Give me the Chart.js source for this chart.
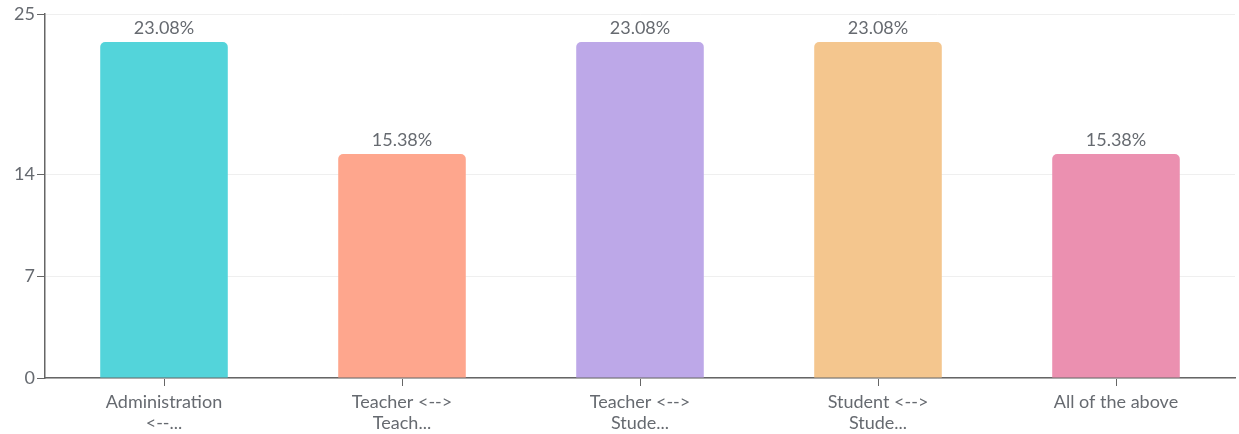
<!DOCTYPE html>
<html>
<head>
<meta charset="utf-8">
<style>
  html, body { margin: 0; padding: 0; background: #fff; }
  #wrap { width: 1239px; height: 434px; position: relative; }
</style>
<script src="https://cdn.jsdelivr.net/npm/chart.js@4.4.1/dist/chart.umd.min.js"></script>
</head>
<body>
<div id="wrap"><canvas id="grafico"></canvas></div>
<script>
// Dados
const categorias = [
    ['Administration', '<--...'],
    ['Teacher <-->', 'Teach...'],
    ['Teacher <-->', 'Stude...'],
    ['Student <-->', 'Stude...'],
    'All of the above',
];
const valores = [23.08, 15.38, 23.08, 23.08, 15.38];
const ticksY = [0, 7, 14, 25];
const cores = ['#53d4da', '#fea68d', '#bda8e8', '#f4c68e', '#eb90b0'];

const corTexto = '#666a70';
const fonte = 'Lato, "Open Sans", sans-serif';

// Rótulos em cima das barras
const rotulosBarras = {
    id: 'rotulosBarras',
    afterDatasetsDraw(chart) {
        const ctx = chart.ctx;
        const meta = chart.getDatasetMeta(0);
        ctx.save();
        ctx.font = '18px ' + fonte;
        ctx.fillStyle = corTexto;
        ctx.textAlign = 'center';
        ctx.textBaseline = 'bottom';
        meta.data.forEach((barra, i) => {
            ctx.fillText(valores[i].toFixed(2) + '%', barra.x, barra.y - 5);
        });
        ctx.restore();
    }
};

const ctx = document.getElementById('grafico').getContext('2d');
new Chart(ctx, {
    type: 'bar',
    data: {
        labels: categorias,
        datasets: [{
            data: valores,
            backgroundColor: cores,
            borderRadius: { topLeft: 5, topRight: 5 },
            borderSkipped: 'bottom',
            barPercentage: 0.536,
            categoryPercentage: 1,
        }]
    },
    options: {
        responsive: true,
        maintainAspectRatio: false,
        animation: false,
        layout: { padding: { top: 14, right: 4, left: 0, bottom: 0 } },
        plugins: {
            legend: { display: false },
            tooltip: { enabled: false },
        },
        scales: {
            x: {
                afterFit: (scale) => { scale.height = 56; },
                grid: {
                    offset: false,
                    drawOnChartArea: false,
                    drawTicks: true,
                    tickLength: 8,
                    color: '#666',
                },
                border: { color: '#666', width: 1.5 },
                ticks: {
                    color: corTexto,
                    font: { family: fonte, size: 18, lineHeight: 1.15 },
                    maxRotation: 0,
                    autoSkip: false,
                    padding: 6,
                },
            },
            y: {
                min: 0,
                max: 25,
                afterFit: (scale) => { scale.width = 45; },
                afterBuildTicks: (scale) => {
                    scale.ticks = ticksY.map(v => ({ value: v }));
                },
                grid: {
                    color: '#efefef',
                    tickColor: '#666',
                    tickLength: 8,
                },
                border: { color: '#666', width: 1.5 },
                ticks: {
                    color: corTexto,
                    font: { family: fonte, size: 18 },
                    padding: 2,
                },
            },
        },
    },
    plugins: [rotulosBarras],
});
</script>
</body>
</html>
